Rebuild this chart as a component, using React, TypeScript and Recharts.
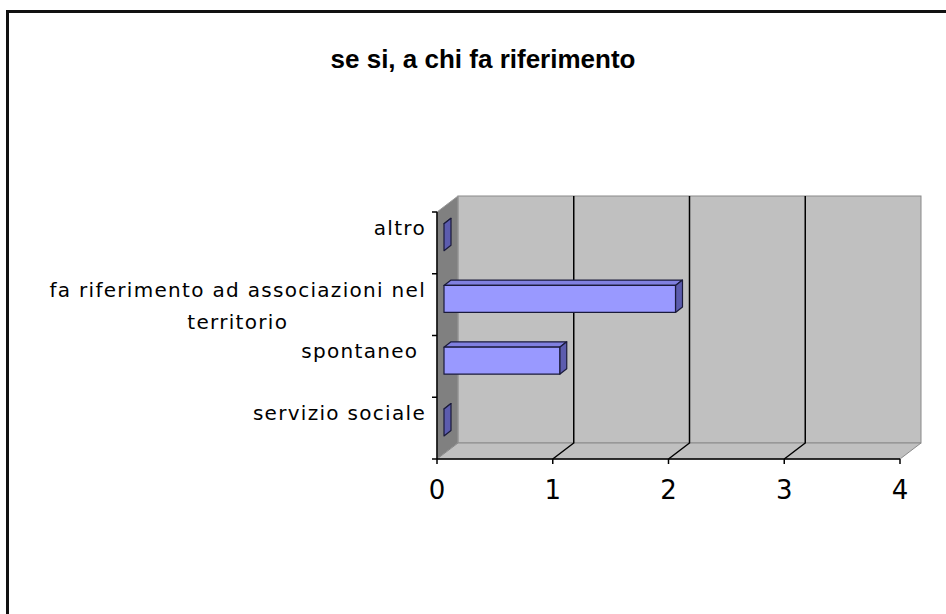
import React from "react";
import { BarChart, Bar, XAxis, YAxis, CartesianGrid } from "recharts";

const TITLE = "se si, a chi fa riferimento";
const categories = [
  "altro",
  "fa riferimento ad associazioni nel territorio",
  "spontaneo ",
  "servizio sociale",
];
const counts = [0, 2, 1, 0];
const xTicks = [0, 1, 2, 3, 4];

const data = categories.map((name, i) => ({ name, value: counts[i] }));

// layout of the (fake) 3d box
const W = 946;
const H = 614;
const PLOT = { left: 437, top: 212, right: 900, bottom: 459 };
const DX = 21; // depth offset, right
const DY = 16; // depth offset, up
const XAXIS_H = 50;
const LABEL_FONT = "'DejaVu Sans', sans-serif";
const LABEL_SIZE = 20;
const LABEL_SP = 1.3;
const LABEL_RIGHT = PLOT.left - 11;

let ctx: CanvasRenderingContext2D | null = null;
function measure(s: string) {
  if (!ctx) ctx = document.createElement("canvas").getContext("2d");
  if (!ctx) return s.length * 11;
  ctx.font = `${LABEL_SIZE}px ${LABEL_FONT}`;
  return ctx.measureText(s).width + s.length * LABEL_SP;
}

function wrap(s: string, max: number) {
  const words = s.split(" ");
  const lines: string[] = [];
  let cur = "";
  for (const w of words) {
    const next = cur ? cur + " " + w : w;
    if (cur && measure(next) > max) {
      lines.push(cur);
      cur = w;
    } else cur = next;
  }
  if (cur) lines.push(cur);
  return lines;
}

function Bar3D(props: any) {
  const { x, y, width, height } = props;
  const dx = DX / 3;
  const dy = DY / 3;
  const fx = x + dx;
  const fy = y - dy;
  const w = Math.max(0, width || 0);
  const stroke = "#1a1a3a";
  return (
    <g strokeLinejoin="round">
      <polygon
        points={`${fx},${fy} ${fx + w},${fy} ${fx + w + dx},${fy - dy} ${fx + dx},${fy - dy}`}
        fill="#8080e0"
        stroke={stroke}
        strokeWidth={1.2}
      />
      <polygon
        points={`${fx + w},${fy} ${fx + w + dx},${fy - dy} ${fx + w + dx},${fy + height - dy} ${fx + w},${fy + height}`}
        fill="#5c5cae"
        stroke={stroke}
        strokeWidth={1.2}
      />
      <rect x={fx} y={fy} width={w} height={height} fill="#9999ff" stroke={stroke} strokeWidth={1.2} />
    </g>
  );
}

function WallGridLine(p: any) {
  const { x1, y1, y2 } = p;
  if (x1 <= PLOT.left + 1 || x1 >= PLOT.right - 1) return <g key={p.key} />;
  return (
    <polyline
      key={p.key}
      points={`${x1},${y2} ${x1 + DX},${y2 - DY} ${x1 + DX},${y1 - DY}`}
      fill="none"
      stroke="#000"
      strokeWidth={1.5}
    />
  );
}

function CategoryTick(props: any) {
  const { y, payload, index } = props;
  const band = (PLOT.bottom - PLOT.top) / categories.length;
  const lines = wrap(String(payload.value), 400);
  const w0 = measure(lines[0]);
  return (
    <g>
      <line x1={PLOT.left - 5} x2={PLOT.left} y1={y - band / 2} y2={y - band / 2} stroke="#000" strokeWidth={1.5} />
      {index === categories.length - 1 && (
        <line x1={PLOT.left - 5} x2={PLOT.left} y1={y + band / 2} y2={y + band / 2} stroke="#000" strokeWidth={1.5} />
      )}
      {lines.map((ln, i) => (
        <text
          key={i}
          x={i === 0 ? LABEL_RIGHT : LABEL_RIGHT - w0 / 2}
          y={y - 8 + i * 32}
          textAnchor={i === 0 ? "end" : "middle"}
          fontFamily={LABEL_FONT}
          fontSize={LABEL_SIZE}
          letterSpacing={LABEL_SP}
          fill="#000"
          style={{ whiteSpace: "pre" }}
        >
          {ln}
        </text>
      ))}
    </g>
  );
}

function ValueTick(props: any) {
  const { x, payload } = props;
  return (
    <text x={x} y={PLOT.bottom + 40} textAnchor="middle" fontFamily={LABEL_FONT} fontSize={26} fill="#000">
      {payload.value}
    </text>
  );
}

function Backdrop() {
  const { left, top, right, bottom } = PLOT;
  return (
    <svg width={W} height={H} style={{ position: "absolute", left: 0, top: 0 }}>
      <rect x={left + DX} y={top - DY} width={right - left} height={bottom - top} fill="#c0c0c0" stroke="#8a8a8a" />
      <polygon
        points={`${left},${top} ${left + DX},${top - DY} ${left + DX},${bottom - DY} ${left},${bottom}`}
        fill="#808080"
        stroke="#9a9a9a"
      />
      <polygon
        points={`${left},${bottom} ${left + DX},${bottom - DY} ${right + DX},${bottom - DY} ${right},${bottom}`}
        fill="#c0c0c0"
        stroke="#8a8a8a"
      />
    </svg>
  );
}

export default function App() {
  return (
    <div style={{ position: "absolute", left: 0, top: 0, width: W, height: H, overflow: "hidden", background: "#fff" }}>
      <div
        style={{
          position: "absolute",
          left: 6,
          top: 10,
          width: 1000,
          height: 700,
          border: "3px solid #111",
          boxSizing: "border-box",
        }}
      />
      <div
        style={{
          position: "absolute",
          left: 183,
          top: 46,
          width: 600,
          textAlign: "center",
          fontFamily: "'Liberation Sans', Arial, sans-serif",
          fontWeight: "bold",
          fontSize: 26,
          lineHeight: "26px",
          color: "#000",
        }}
      >
        {TITLE}
      </div>
      <Backdrop />
      <div style={{ position: "absolute", left: 0, top: 0 }}>
        <BarChart
          width={W}
          height={H}
          data={data}
          layout="vertical"
          barSize={27}
          margin={{ top: PLOT.top, right: W - PLOT.right, bottom: H - PLOT.bottom - XAXIS_H, left: 0 }}
        >
          <CartesianGrid horizontal={false} vertical={WallGridLine} verticalValues={[1, 2, 3]} />
          <XAxis
            type="number"
            domain={[0, 4]}
            ticks={xTicks}
            interval={0}
            height={XAXIS_H}
            axisLine={{ stroke: "#000", strokeWidth: 1.5 }}
            tickLine={{ stroke: "#000", strokeWidth: 1.5 }}
            tickSize={5}
            tick={<ValueTick />}
          />
          <YAxis
            type="category"
            dataKey="name"
            width={PLOT.left}
            interval={0}
            axisLine={{ stroke: "#000", strokeWidth: 1.5 }}
            tickLine={false}
            tick={<CategoryTick />}
          />
          <Bar dataKey="value" shape={<Bar3D />} isAnimationActive={false} />
        </BarChart>
      </div>
    </div>
  );
}
